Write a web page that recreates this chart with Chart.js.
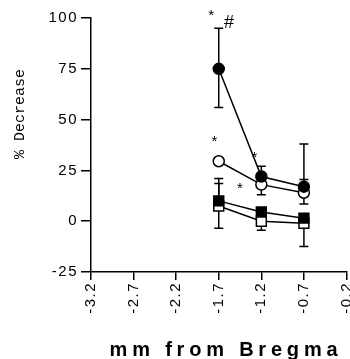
<!DOCTYPE html>
<html>
<head>
<meta charset="utf-8">
<style>
  html, body { margin: 0; padding: 0; background: #fff; overflow: hidden; }
  #wrap { width: 350px; height: 359px; overflow: hidden; }
</style>
<script src="https://cdn.jsdelivr.net/npm/chart.js@4.4.1/dist/chart.umd.min.js"></script>
</head>
<body>
<div id="wrap"><canvas id="chart" width="355" height="359"></canvas></div>
<script>
// positions in mm from bregma
const xValues = [-1.7, -1.2, -0.7];
const xTicks = [-3.2, -2.7, -2.2, -1.7, -1.2, -0.7, -0.2];
const yTicks = [-25, 0, 25, 50, 75, 100];

// % decrease per group, with visible error bar ends (null = hidden)
const filledCircle = [75, 22, 17];
const filledCircleHi = [95, 27, 38];
const filledCircleLo = [56, null, null];

const openCircle = [29.5, 18, 14];
const openCircleHi = [null, null, 20.5];
const openCircleLo = [null, 13, 8.5];

const filledSquare = [10, 4.5, 1.5];
const filledSquareHi = [21, null, null];
const filledSquareLo = [null, null, -12.5];

const openSquare = [7.5, 0, -1];
const openSquareHi = [18.5, null, null];
const openSquareLo = [-3.5, -4.5, -3];

// significance marks
const markText = ['*', '#', '*', '*', '*'];
const markX = [-1.79, -1.58, -1.75, -1.28, -1.45];
const markY = [101, 97.5, 39, 31, 16];

function pts(vals) {
  return vals.map((v, i) => ({ x: xValues[i], y: v }));
}

function series(vals, hi, lo, style, fill) {
  return {
    data: pts(vals),
    hi: hi,
    lo: lo,
    borderColor: '#000',
    borderWidth: 1.5,
    pointStyle: style,
    pointRadius: style === 'rect' ? 7 : 5.5,
    pointBorderWidth: 1.5,
    pointBorderColor: '#000',
    pointBackgroundColor: fill,
    tension: 0
  };
}

const spacing = {
  id: 'spacing',
  beforeUpdate(chart) { chart.ctx.letterSpacing = '1.5px'; },
  beforeDraw(chart) { chart.ctx.letterSpacing = '1.5px'; }
};

const errorBars = {
  id: 'errorBars',
  beforeDatasetsDraw(chart) {
    const ctx = chart.ctx;
    const xs = chart.scales.x, ys = chart.scales.y;
    ctx.save();
    ctx.strokeStyle = '#000';
    ctx.lineWidth = 1.5;
    chart.data.datasets.forEach(ds => {
      ds.data.forEach((p, i) => {
        const px = xs.getPixelForValue(p.x);
        const py = ys.getPixelForValue(p.y);
        [ds.hi[i], ds.lo[i]].forEach(end => {
          if (end === null) return;
          const ey = ys.getPixelForValue(end);
          ctx.beginPath();
          ctx.moveTo(px, py);
          ctx.lineTo(px, ey);
          ctx.moveTo(px - 4.5, ey);
          ctx.lineTo(px + 4.5, ey);
          ctx.stroke();
        });
      });
    });
    ctx.restore();
  },
  afterDraw(chart) {
    const ctx = chart.ctx;
    const xs = chart.scales.x, ys = chart.scales.y;
    ctx.save();
    ctx.letterSpacing = '0px';
    ctx.fillStyle = '#000';
    ctx.textAlign = 'center';
    ctx.textBaseline = 'middle';
    markText.forEach((t, i) => {
      ctx.font = t === '#' ? '18px "Liberation Sans"' : '15px "Liberation Sans"';
      ctx.fillText(t, xs.getPixelForValue(markX[i]), ys.getPixelForValue(markY[i]));
    });

    // axis titles
    ctx.font = 'bold 20px "Liberation Sans"';
    ctx.letterSpacing = '4.8px';
    ctx.textBaseline = 'alphabetic';
    ctx.fillText('mm from Bregma', 226, 356);
    ctx.letterSpacing = '0px';

    ctx.translate(20, 114);
    ctx.rotate(-Math.PI / 2);
    ctx.font = '15px "Liberation Mono"';
    ctx.textBaseline = 'middle';
    ctx.fillText('% Decrease', 0, 0);
    ctx.restore();
  }
};

new Chart(document.getElementById('chart'), {
  type: 'line',
  data: {
    datasets: [
      series(filledCircle, filledCircleHi, filledCircleLo, 'circle', '#000'),
      series(openCircle, openCircleHi, openCircleLo, 'circle', '#fff'),
      series(filledSquare, filledSquareHi, filledSquareLo, 'rect', '#000'),
      series(openSquare, openSquareHi, openSquareLo, 'rect', '#fff')
    ]
  },
  options: {
    responsive: false,
    animation: false,
    devicePixelRatio: 1,
    layout: { padding: { top: 18, left: 0, right: 0, bottom: 0 } },
    plugins: { legend: { display: false }, tooltip: { enabled: false } },
    scales: {
      x: {
        type: 'linear',
        min: -3.2,
        max: -0.2,
        afterBuildTicks: s => { s.ticks = xTicks.map(v => ({ value: v })); },
        afterFit: s => { s.height = 87; s.paddingRight = 3; s.paddingLeft = 0; },
        border: { color: '#000', width: 1.5 },
        grid: { drawOnChartArea: false, color: '#000', lineWidth: 1.5, tickLength: 8 },
        ticks: {
          color: '#000',
          font: { family: 'Liberation Sans', size: 15 },
          minRotation: 90,
          maxRotation: 90,
          padding: 2,
          callback: v => v.toFixed(1)
        }
      },
      y: {
        min: -25,
        max: 100,
        afterBuildTicks: s => { s.ticks = yTicks.map(v => ({ value: v })); },
        afterFit: s => { s.width = 91; s.paddingTop = 0; s.paddingBottom = 0; },
        border: { color: '#000', width: 1.5 },
        grid: { drawOnChartArea: false, color: '#000', lineWidth: 1.5, tickLength: 10 },
        ticks: {
          color: '#000',
          font: { family: 'Liberation Sans', size: 15 },
          padding: 3
        }
      }
    }
  },
  plugins: [spacing, errorBars]
});
</script>
</body>
</html>
